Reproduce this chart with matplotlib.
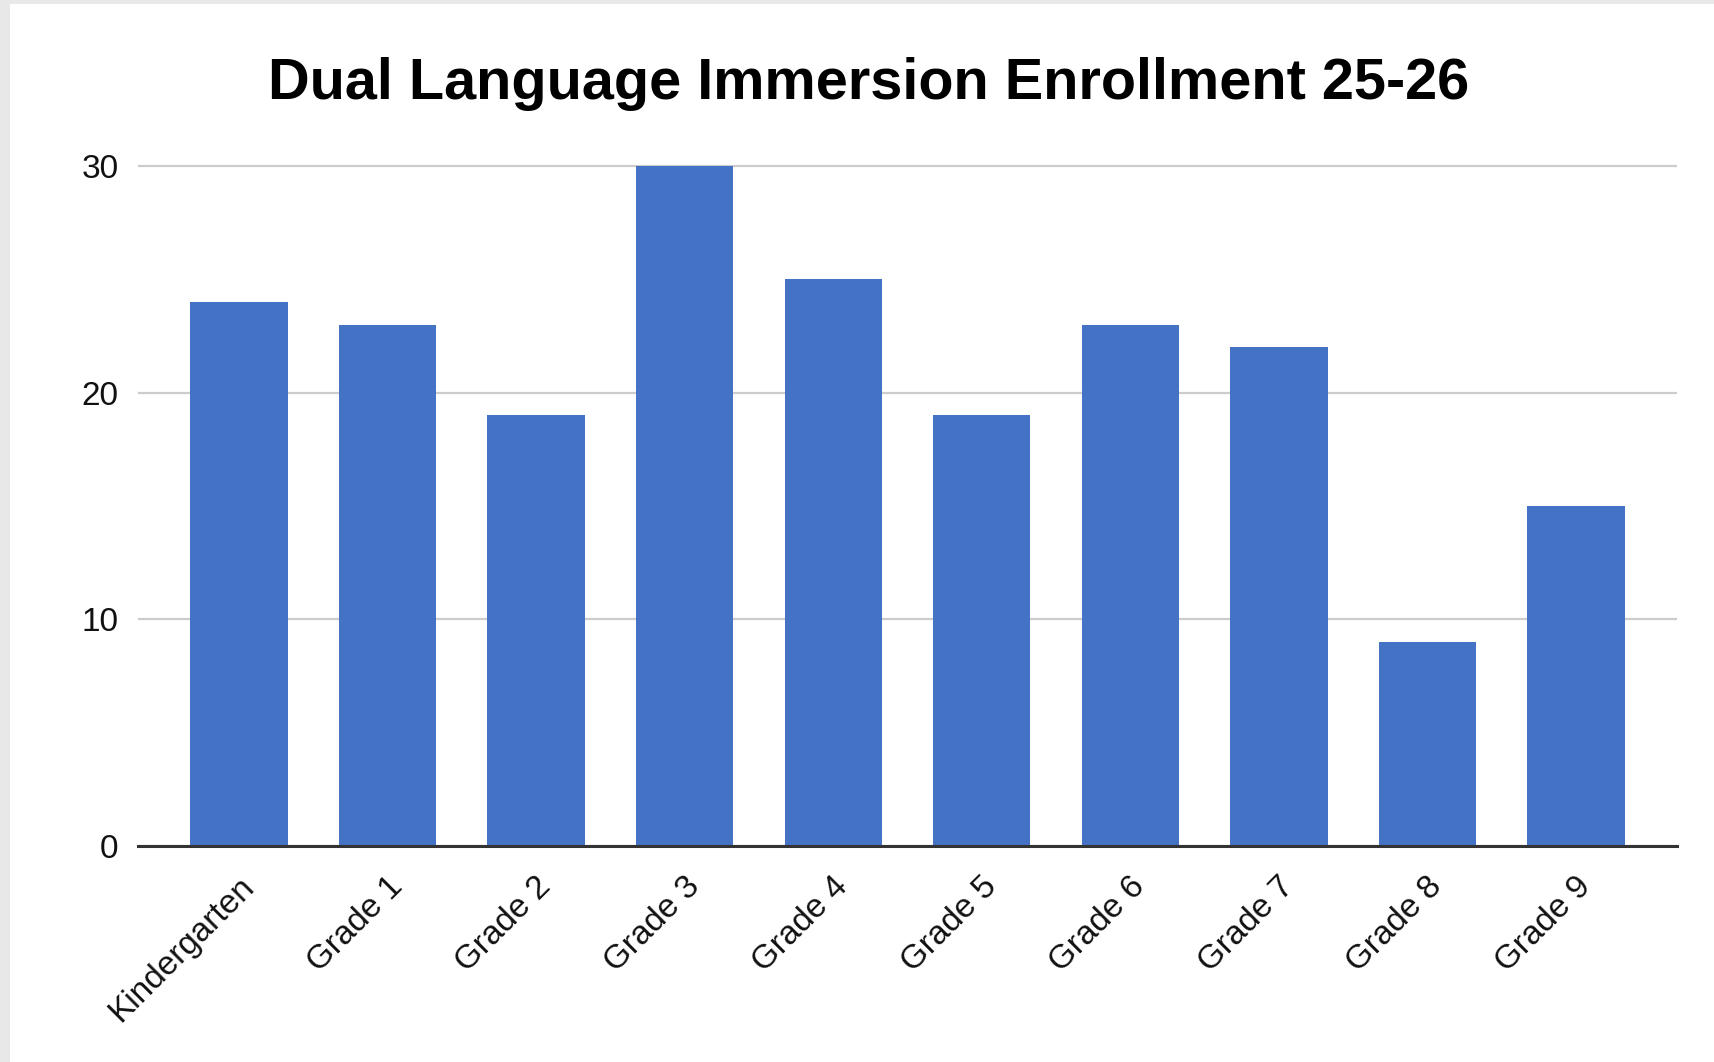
import matplotlib
matplotlib.use("Agg")
import matplotlib.pyplot as plt
from matplotlib.patches import Rectangle
from matplotlib.transforms import ScaledTranslation

categories = ["Kindergarten", "Grade 1", "Grade 2", "Grade 3", "Grade 4",
              "Grade 5", "Grade 6", "Grade 7", "Grade 8", "Grade 9"]
enrollment = [24, 23, 19, 30, 25, 19, 23, 22, 9, 15]
y_ticks = [0, 10, 20, 30]
title = "Dual Language Immersion Enrollment 25-26"

plt.rcParams['font.family'] = ['Liberation Sans', 'DejaVu Sans']

W, H = 1714, 1062
fig = plt.figure(figsize=(W / 100, H / 100), dpi=100)
fig.patch.set_facecolor("white")
# light gray frame strips (top and left)
fig.patches.append(Rectangle((0, 1 - 4 / H), 1, 4 / H, transform=fig.transFigure,
                             facecolor="#e8e8e8", edgecolor="none", zorder=0))
fig.patches.append(Rectangle((0, 0), 10 / W, 1, transform=fig.transFigure,
                             facecolor="#e8e8e8", edgecolor="none", zorder=0))

left, right = 138 / W, 1677 / W
bottom = 1 - 846 / H
top = 1 - 161.5 / H
ax = fig.add_axes([left, bottom, right - left, top - bottom])

x = list(range(len(categories)))
ax.bar(x, enrollment, width=0.655, color="#4472C4", zorder=3)

ax.set_xlim(-0.68, len(categories) - 1 + 0.68)
ax.set_ylim(0, 30.2)
ax.set_yticks(y_ticks)
ax.set_yticklabels([str(v) for v in y_ticks])
ax.yaxis.grid(True, color="#cccccc", linewidth=1.6, zorder=0)
ax.set_axisbelow(True)
for s in ["top", "right", "left"]:
    ax.spines[s].set_visible(False)
ax.spines["bottom"].set_color("#333333")
ax.spines["bottom"].set_linewidth(2.2)
ax.spines["bottom"].set_zorder(4)

ax.tick_params(axis="y", length=0, pad=14, labelsize=24, labelcolor="#111111")
ax.tick_params(axis="x", length=0, pad=0, labelsize=24, labelcolor="#111111")
ax.set_xticks(x)
ax.set_xticklabels(categories, rotation=45, ha="right", va="center",
                   rotation_mode="anchor")
offset = ScaledTranslation(10 / 100, -36 / 100, fig.dpi_scale_trans)
for lab in ax.get_xticklabels():
    lab.set_transform(lab.get_transform() + offset)

fig.text(869 / W, 1 - 84 / H, title, ha="center", va="center",
         fontsize=41.5, fontweight="bold", color="black")

fig.savefig("out.png", dpi=100)
